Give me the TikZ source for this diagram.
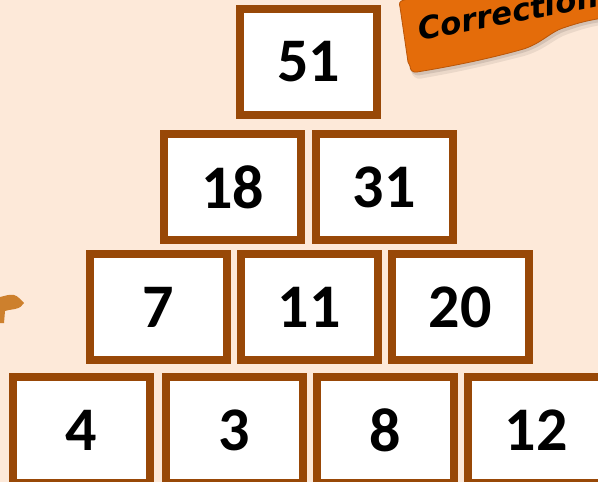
\documentclass[tikz,border=0pt]{standalone}
\usepackage{fontspec}
\setmainfont{Carlito}
\newfontfamily\tagfont{DejaVu Sans}
\definecolor{bgpeach}{RGB}{253,233,217}
\definecolor{boxbrown}{RGB}{152,72,7}
\definecolor{tagorange}{RGB}{228,108,10}
\definecolor{tagedge}{RGB}{185,85,8}
\definecolor{blobcol}{RGB}{205,128,45}
\begin{document}
\begin{tikzpicture}[x=1pt,y=-1pt,
  cell/.style={draw=boxbrown,line width=8pt,fill=white,minimum width=137pt,minimum height=106pt,inner sep=0pt,
    font=\fontsize{62}{62}\selectfont\bfseries}]
\useasboundingbox (0,0) rectangle (598,482);
\clip (0,0) rectangle (598,482);
\fill[bgpeach] (0,0) rectangle (598,482);
% left blob
\fill[blobcol] (0,297) .. controls (5,296) and (9,294) .. (14,295)
  .. controls (18,296) and (21,300) .. (24,303)
  .. controls (22,306) and (20,308) .. (15,309)
  .. controls (10,310) and (7,310) .. (5,311)
  -- (4,323) -- (0,323) -- cycle;
% boxes
\node[cell] (n51) at (308.5,62) {51};
\node[cell] (n18) at (232.5,187) {18};
\node[cell] (n31) at (384,187) {31};
\node[cell] (n7) at (158,307) {7};
\node[cell] (n11) at (309,307) {11};
\node[cell] (n20) at (460,307) {20};
\node[cell] (n4) at (81,430) {4};
\node[cell] (n3) at (234,430) {3};
\node[cell] (n8) at (385,430) {8};
\node[cell] (n12) at (536,430) {12};
% tag shadow
\fill[black,opacity=0.07] (402,10) -- (412,74) .. controls (416,80) and (420,79) .. (424,78)
  .. controls (470,70) and (500,62) .. (524,56) .. controls (545,50) and (555,38) .. (568,34)
  .. controls (580,30) and (590,26) .. (610,24) -- (610,-20) -- cycle;
\fill[black,opacity=0.10] (401,8) -- (410,70) .. controls (414,76) and (418,76) .. (421,75)
  .. controls (470,67) and (500,59) .. (522,53) .. controls (543,47) and (553,35) .. (566,31)
  .. controls (580,26) and (590,23) .. (610,21) -- (610,-20) -- cycle;
% tag
\filldraw[fill=tagorange,draw=tagedge,line width=0.8pt]
  (420,-4) -- (404,0) .. controls (399,1) and (399,4) .. (400,7)
  -- (408,62) -- (410,66) .. controls (410,70) and (413,73) .. (417,72)
  .. controls (460,65) and (495,57) .. (520,50)
  .. controls (540,45) and (550,32) .. (563,28)
  .. controls (578,23) and (588,20) .. (610,17) -- (610,-20) -- (430,-20) -- cycle;
\node[rotate=11,anchor=base west,inner sep=0pt,font=\tagfont\fontsize{31}{31}\selectfont\bfseries\itshape] (tagtext) at (420,41) {Correction};
\end{tikzpicture}
\end{document}
